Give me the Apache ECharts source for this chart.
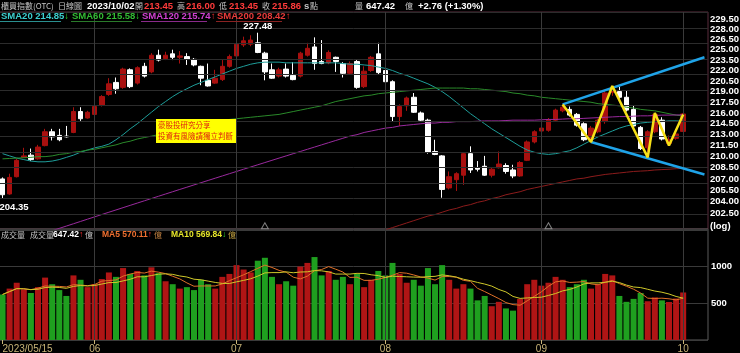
<!DOCTYPE html>
<html><head><meta charset="utf-8">
<script src="https://cdn.jsdelivr.net/npm/echarts@6/dist/echarts.min.js"></script>
<style>html,body{margin:0;padding:0;background:#000}#c{width:740px;height:353px}</style>
</head><body><div id="c"></div>
<script>
// ---------------- data ----------------
const dates = [
'2023/05/15','2023/05/16','2023/05/17','2023/05/18','2023/05/19','2023/05/22','2023/05/23','2023/05/24','2023/05/25','2023/05/26','2023/05/29','2023/05/30','2023/05/31',
'2023/06/01','2023/06/02','2023/06/05','2023/06/06','2023/06/07','2023/06/08','2023/06/09','2023/06/12','2023/06/13','2023/06/14','2023/06/15','2023/06/16','2023/06/19','2023/06/20','2023/06/21','2023/06/26','2023/06/27','2023/06/28','2023/06/29','2023/06/30',
'2023/07/03','2023/07/04','2023/07/05','2023/07/06','2023/07/07','2023/07/10','2023/07/11','2023/07/12','2023/07/13','2023/07/14','2023/07/17','2023/07/18','2023/07/19','2023/07/20','2023/07/21','2023/07/24','2023/07/25','2023/07/26','2023/07/27','2023/07/28','2023/07/31',
'2023/08/01','2023/08/02','2023/08/04','2023/08/07','2023/08/08','2023/08/09','2023/08/10','2023/08/11','2023/08/14','2023/08/15','2023/08/16','2023/08/17','2023/08/18','2023/08/21','2023/08/22','2023/08/23','2023/08/24','2023/08/25','2023/08/28','2023/08/29','2023/08/30','2023/08/31',
'2023/09/01','2023/09/04','2023/09/05','2023/09/06','2023/09/07','2023/09/08','2023/09/11','2023/09/12','2023/09/13','2023/09/14','2023/09/15','2023/09/18','2023/09/19','2023/09/20','2023/09/21','2023/09/22','2023/09/25','2023/09/26','2023/09/27','2023/09/28',
'2023/10/02'];

const openP = [207.0,205.0,207.3,209.9,210.2,209.7,211.5,213.4,212.9,212.8,
213.3,216.2,215.3,215.8,217.1,218.6,220.3,219.6,222.1,220.2,
222.6,221.8,224.2,223.7,224.4,223.9,224.0,223.6,222.6,220.6,
220.2,220.7,222.6,224.1,225.7,225.8,226.0,224.5,222.1,221.2,
222.2,221.3,221.2,224.2,225.4,223.3,223.1,223.9,223.0,221.6,
223.3,219.7,222.0,224.4,222.0,220.4,215.5,217.0,218.2,216.0,
215.0,210.7,210.1,205.8,206.9,207.5,210.4,208.5,208.7,207.5,
208.5,208.8,208.2,207.4,209.5,212.0,213.5,213.6,215.0,216.3,
216.5,215.8,214.5,212.5,213.4,214.8,218.9,219.0,218.2,216.5,
214.0,211.2,213.4,215.0,211.8,212.5,213.45];
const highP = [207.2,207.7,209.7,211.2,211.1,211.6,213.8,213.8,213.8,214.2,
216.8,216.8,216.3,217.0,218.5,220.9,221.0,222.4,222.3,222.6,
223.1,224.5,225.0,224.7,225.0,224.8,224.5,223.8,222.7,223.0,
222.1,223.5,224.3,226.1,226.9,227.1,227.48,224.7,223.0,222.4,
223.0,223.2,224.7,226.0,226.8,226.4,224.9,224.0,223.2,223.3,
223.5,222.6,224.1,226.0,222.2,220.6,217.2,218.3,218.8,216.2,
215.2,212.3,210.2,208.0,207.9,210.6,211.4,209.4,210.1,208.6,
210.7,209.1,208.9,209.4,212.2,213.6,215.1,215.3,216.6,217.2,
216.9,216.0,214.7,214.2,215.2,219.1,219.8,219.7,219.1,217.0,
214.2,213.6,216.0,215.4,212.9,213.6,216.00];
const lowP = [204.35,204.9,207.2,209.8,209.4,209.6,211.4,212.2,212.1,212.6,
213.2,214.9,215.2,215.6,216.9,218.4,218.7,219.4,219.5,220.0,
221.0,221.6,223.3,223.5,223.5,223.0,222.8,222.6,219.9,219.7,
220.1,220.5,222.4,224.0,225.4,225.5,224.5,220.6,220.8,221.0,
221.0,220.6,221.0,224.0,222.1,222.9,222.9,221.8,221.0,221.4,
219.4,219.5,221.8,221.5,220.2,214.8,214.2,216.3,216.0,214.8,
210.4,210.2,204.5,205.6,205.4,206.2,207.8,208.0,207.4,207.2,
208.4,207.7,207.1,207.3,209.4,211.8,213.4,213.4,214.9,216.1,
215.5,214.1,212.1,212.0,213.2,214.5,218.4,218.0,216.2,214.0,
210.9,209.9,213.2,212.2,211.5,212.3,213.45];
const closeP = [204.9,207.2,209.5,210.1,209.6,211.3,213.4,212.7,212.3,212.7,
216.2,215.2,216.1,216.9,218.3,220.1,219.4,222.2,219.7,222.4,
221.2,224.2,223.5,224.2,223.9,224.1,223.6,222.8,220.9,219.8,
220.9,222.6,224.0,225.8,226.3,226.4,224.6,221.8,220.9,222.1,
221.2,220.7,224.5,225.2,223.0,223.0,224.6,223.3,221.6,223.0,
219.6,221.9,223.9,221.7,220.4,215.5,216.9,218.1,216.1,215.0,
210.6,210.3,205.6,207.3,207.7,210.4,208.2,208.3,207.5,208.3,
209.0,208.0,207.4,209.2,212.0,213.4,213.9,215.0,216.4,216.8,
215.7,214.3,212.3,213.9,215.0,218.8,219.3,218.2,216.4,214.2,
211.1,213.4,215.8,212.4,212.3,213.1,215.86];
const volume = [620,700,780,690,640,720,850,760,680,600,
880,820,720,760,830,920,860,980,900,940,
880,990,910,800,760,700,720,680,820,760,
700,860,900,1020,960,920,1080,1120,860,760,
800,740,1000,1050,1130,880,940,820,860,760,
900,720,820,940,880,1050,900,780,820,740,
980,760,1020,820,700,760,700,540,600,460,
520,430,400,560,760,820,740,780,860,820,
720,760,820,700,760,900,880,600,520,560,
640,527.85,580,540,518,565.13,647.42];

const sma20 = [210.4,210.1,209.8,209.6,209.4,209.3,209.3,209.4,209.6,209.9,
210.2,210.6,210.9,211.2,211.4,211.7,212.3,213.0,213.8,214.5,
215.3,216.1,216.9,217.6,218.3,218.9,219.4,219.9,220.3,220.7,
221.1,221.5,221.9,222.3,222.6,222.9,223.1,223.2,223.2,223.2,
223.1,223.1,223.1,223.1,223.1,223.1,223.1,223.1,223.0,222.9,
222.9,222.8,222.7,222.5,222.3,222.0,221.6,221.3,220.9,220.5,
220.1,219.6,219.0,218.3,217.5,216.7,215.9,215.2,214.5,213.8,
213.2,212.6,212.0,211.4,210.9,210.6,210.4,210.3,210.4,210.6,
210.8,211.2,211.7,212.2,212.7,213.1,213.5,213.9,214.2,214.4,
214.6,214.7,214.8,214.8,214.9,214.9,214.85];
const sma60 = [209.7,209.75,209.8,209.85,209.9,210.0,210.0,210.1,210.3,210.4,
210.6,210.7,210.9,211.0,211.2,211.4,211.6,211.9,212.1,212.4,
212.6,212.8,213.0,213.3,213.5,213.7,214.0,214.2,214.4,214.6,
214.8,215.0,215.1,215.2,215.3,215.4,215.5,215.6,215.7,215.8,
216.0,216.2,216.4,216.6,216.8,217.0,217.3,217.6,217.8,218.0,
218.2,218.4,218.5,218.7,218.8,218.9,219.0,219.1,219.2,219.3,
219.4,219.5,219.5,219.5,219.5,219.5,219.4,219.4,219.3,219.2,
219.1,219.0,218.8,218.7,218.5,218.4,218.2,218.1,218.0,217.9,
217.8,217.7,217.6,217.5,217.3,217.2,217.1,217.0,216.8,216.7,
216.5,216.4,216.3,216.1,215.9,215.7,215.58];
const sma120 = [null,null,null,null,null,null,null,200.2,200.5,200.8,
201.1,201.4,201.7,202.0,202.3,202.6,202.9,203.2,203.5,203.8,
204.1,204.4,204.7,205.0,205.3,205.6,205.9,206.2,206.5,206.8,
207.1,207.4,207.7,208.0,208.3,208.6,208.9,209.2,209.5,209.8,
210.1,210.4,210.7,211.0,211.3,211.6,211.9,212.2,212.5,212.8,
213.0,213.3,213.5,213.7,213.9,214.0,214.2,214.3,214.4,214.5,
214.6,214.6,214.7,214.7,214.8,214.8,214.8,214.85,214.9,214.9,
214.9,214.95,215.0,215.0,215.0,215.0,215.05,215.1,215.1,215.15,
215.2,215.2,215.25,215.3,215.35,215.4,215.45,215.5,215.5,215.55,
215.6,215.6,215.65,215.7,215.7,215.72,215.74];
const sma200 = [null,null,null,null,null,null,null,null,null,null,
null,null,null,null,null,null,null,null,null,null,
null,null,null,null,null,null,null,null,null,null,
null,null,null,null,null,null,null,null,null,null,
null,null,null,null,null,null,null,null,null,null,
null,null,null,null,200.3,200.6,200.9,201.2,201.5,201.8,
202.1,202.3,202.6,202.9,203.1,203.4,203.6,203.9,204.1,204.4,
204.6,204.9,205.1,205.3,205.6,205.8,206.0,206.2,206.4,206.6,
206.8,207.0,207.1,207.3,207.45,207.6,207.7,207.8,207.9,208.0,
208.05,208.1,208.2,208.25,208.3,208.37,208.42];

const priceTicks = [229.5,228,226.5,225,223.5,222,220.5,219,217.5,216,214.5,213,211.5,210,208.5,207,205.5,204,202.5];
const volTicks = [500,1000];
// drawn annotations: [dateIndex, price]
const upperTrend = [[79,217.2],[99,223.9]];
const lowerTrend = [[83,212.0],[99,207.6]];
const zigzag = [[79,217.2],[83,212.0],[86,219.8],[91,209.9],[92,216.0],[94,211.5],[96,215.8]];
const eventIdx = [37,77];

// ---------------- build ----------------
const LN = Math.log;
const cats = dates.concat(['','','']);
const monthStarts = [];
dates.forEach((d,i)=>{ if(i>0 && d.slice(5,7)!==dates[i-1].slice(5,7)) monthStarts.push(i); });
const msSet = new Set(monthStarts);
const candle = dates.map((d,i)=>[LN(openP[i]),LN(closeP[i]),LN(lowP[i]),LN(highP[i])]);
const lnArr = a => a.map(v => v==null ? null : LN(v));
const lnPairs = a => a.map(p => [p[0], LN(p[1])]);
function sma(arr,n){ return arr.map((v,i)=>{const s=Math.max(0,i-n+1);let t=0;for(let k=s;k<=i;k++)t+=arr[k];return t/(i-s+1);}); }
const vma5 = sma(volume,5), vma10 = sma(volume,10);
const N = dates.length-1;
const f2 = v => v.toFixed(2);
const PMIN = 200.42, PMAX = 230.54, VMAX = 1512;

const UP='#a8100f', DN='#ffffff', VUP='#b01515', VDN='#1f9f1f';
const NUMF = '"Liberation Sans", Arial, sans-serif';
const CJKF = '"Noto Sans CJK TC", sans-serif';
const NUM = 'bold 9.5px '+NUMF;
const NUMS = 'bold 8.5px '+NUMF;
const CJK = '8px '+CJKF;
const GRAY = '#c4c4c4', RED='#ff3b3b', UPA='#ff3030', DNA='#2ee02e';

function T(x,y,text,fill,font){ return {type:'text', x:x, y:y, silent:true, z:50,
  style:{text:text, fill:fill, font:font, textVerticalAlign:'middle', verticalAlign:'middle'}}; }
const arrow = (a,b) => a>=b ? '↑' : '↓';
function legendItem(x,y,label,val,prev,color){
  const up = val>=prev;
  return {type:'text', x:x, y:y, silent:true, z:50, style:{
    text:'{a|'+label+' '+f2(val)+'}{u|'+(up?'↑':'↓')+'}',
    textVerticalAlign:'middle', verticalAlign:'middle',
    rich:{a:{fill:color,color:color,font:NUM}, u:{fill:up?UPA:DNA,color:up?UPA:DNA,font:NUM}}
  }};
}
const chg = closeP[N]-closeP[N-1];
const graphics = [
  T(1,6,'櫃買指數(OTC)',GRAY,CJK),
  T(58,6,'日線圖',GRAY,CJK),
  T(87,6,dates[N],'#fff',NUM),
  T(135,6,'開',GRAY,CJK), T(144,6,f2(openP[N]),RED,NUM),
  T(177,6,'高',GRAY,CJK), T(186,6,f2(highP[N]),RED,NUM),
  T(219,6,'低',GRAY,CJK), T(229,6,f2(lowP[N]),RED,NUM),
  T(262,6,'收',GRAY,CJK), T(272,6,f2(closeP[N]),RED,NUM),
  T(304,6,'s',GRAY,NUM), T(310,6,'點',GRAY,CJK),
  T(355,6,'量',GRAY,CJK), T(366,6,f2(volume[N]),'#fff',NUM), T(405,6,'億',GRAY,CJK),
  T(418,6,(chg>=0?'+':'')+f2(chg)+' ('+(chg>=0?'+':'')+f2(chg/closeP[N-1]*100)+'%)','#fff',NUM),
  legendItem(1,16,'SMA20',sma20[N],sma20[N-1],'#3ccfcf'),
  legendItem(72,16,'SMA60',sma60[N],sma60[N-1],'#33bb33'),
  legendItem(142,16,'SMA120',sma120[N],sma120[N-1],'#d040d0'),
  legendItem(217,16,'SMA200',sma200[N],sma200[N-1],'#e83a3a'),
  {type:'rect', silent:true, z:49, shape:{x:0,y:21,width:61,height:1}, style:{fill:'#2a8f8f'}},
  {type:'rect', silent:true, z:49, shape:{x:71,y:21,width:61,height:1}, style:{fill:'#2a7a2a'}},
  {type:'rect', silent:true, z:49, shape:{x:141,y:21,width:66,height:1}, style:{fill:'#8a2a8a'}},
  {type:'rect', silent:true, z:49, shape:{x:216,y:21,width:66,height:1}, style:{fill:'#8a2222'}},
  T(710,226,'(log)','#fff',NUM),
  T(1,235,'成交量',GRAY,'8px '+CJKF),
  T(30,235,'成交量',GRAY,'8px '+CJKF),
  {type:'text', x:53, y:235, silent:true, z:50, style:{text:'{a|'+f2(volume[N])+'}{u|'+arrow(volume[N],volume[N-1])+'}{g| 億}',
    textVerticalAlign:'middle', verticalAlign:'middle',
    rich:{a:{fill:'#fff',color:'#fff',font:NUMS}, u:{fill:volume[N]>=volume[N-1]?UPA:DNA,color:volume[N]>=volume[N-1]?UPA:DNA,font:NUMS}, g:{fill:GRAY,color:GRAY,font:'8px '+CJKF}}}},
  {type:'text', x:102, y:235, silent:true, z:50, style:{text:'{a|MA5 '+f2(vma5[N])+'}{u|'+arrow(vma5[N],vma5[N-1])+'}{g| 億}',
    textVerticalAlign:'middle', verticalAlign:'middle',
    rich:{a:{fill:'#f07030',color:'#f07030',font:NUMS}, u:{fill:vma5[N]>=vma5[N-1]?UPA:DNA,color:vma5[N]>=vma5[N-1]?UPA:DNA,font:NUMS}, g:{fill:'#c08040',color:'#c08040',font:'8px '+CJKF}}}},
  {type:'text', x:171, y:235, silent:true, z:50, style:{text:'{a|MA10 '+f2(vma10[N])+'}{u|'+arrow(vma10[N],vma10[N-1])+'}{g| 億}',
    textVerticalAlign:'middle', verticalAlign:'middle',
    rich:{a:{fill:'#e6e62a',color:'#e6e62a',font:NUMS}, u:{fill:vma10[N]>=vma10[N-1]?UPA:DNA,color:vma10[N]>=vma10[N-1]?UPA:DNA,font:NUMS}, g:{fill:'#c0a040',color:'#c0a040',font:'8px '+CJKF}}}},
  {type:'rect', silent:true, z:60, shape:{x:156,y:119,width:80,height:24}, style:{fill:'#ffff00'}},
  {type:'text', silent:true, z:61, x:158, y:125.5, style:{text:'豪股投研究分享', fill:'#e02010', font:'7.5px '+CJKF, textVerticalAlign:'middle', verticalAlign:'middle'}},
  {type:'text', silent:true, z:61, x:158, y:136, style:{text:'投資有風險請獨立判斷', fill:'#e02010', font:'7.5px '+CJKF, textVerticalAlign:'middle', verticalAlign:'middle'}}
];

const xBase = {type:'category', data:cats, boundaryGap:true,
  axisLine:{show:false}, axisTick:{show:false}, axisLabel:{show:false}, splitLine:{show:false}};
const vLines = monthStarts.map(i=>({xAxis:i}));

const option = {
  backgroundColor:'#000',
  animation:false,
  grid:[
    {left:-1, width:709, top:12, height:217, show:true, borderColor:'#5a2c3c', borderWidth:1, backgroundColor:'transparent', outerBoundsMode:'none', containLabel:false},
    {left:-1, width:709, top:229, height:111, show:true, borderColor:'#5a5a5a', borderWidth:1, backgroundColor:'transparent', outerBoundsMode:'none', containLabel:false}
  ],
  xAxis:[
    Object.assign({}, xBase, {gridIndex:0}),
    Object.assign({}, xBase, {gridIndex:1,
      axisTick:{show:true, alignWithLabel:true, interval:(i)=>i===0||msSet.has(i), length:4, lineStyle:{color:'#c8b477'}},
      axisLabel:{show:true, interval:(i)=>i===0||msSet.has(i), margin:4, color:'#c8b477', fontSize:10,
        fontFamily:'"Liberation Sans Narrow","Liberation Sans", sans-serif', alignMinLabel:'left',
        formatter:(v,i)=> i===0 ? v : v.slice(5,7)}})
  ],
  yAxis:[
    {type:'value', gridIndex:0, position:'right', min:LN(PMIN), max:LN(PMAX),
      axisLine:{show:false}, axisTick:{show:false}, splitLine:{show:false},
      axisLabel:{show:true, customValues:priceTicks.map(LN), margin:2, color:'#fff', fontSize:9.5, fontWeight:'bold', fontFamily:NUMF,
        formatter:(v)=> f2(Math.exp(v))}},
    {type:'value', gridIndex:1, position:'right', min:0, max:VMAX, interval:500,
      axisLine:{show:false}, axisTick:{show:false},
      axisLabel:{show:true, margin:3, color:'#fff', fontSize:9.5, fontWeight:'bold', fontFamily:NUMF,
        formatter:(v)=> volTicks.indexOf(v)>=0 ? String(v) : ''},
      splitLine:{show:true, lineStyle:{color:'#3a3a3a', width:1}}}
  ],
  series:[
    {type:'line', xAxisIndex:0, yAxisIndex:0, data:[], z:1, silent:true,
      markLine:{silent:true, symbol:['none','none'], animation:false,
        lineStyle:{color:'#2c2c2c', width:1, type:'solid'}, label:{show:false},
        data: priceTicks.map(v=>({yAxis:LN(v)}))}},
    {type:'line', xAxisIndex:0, yAxisIndex:0, data:[], z:1, silent:true,
      markLine:{silent:true, symbol:['none','none'], animation:false,
        lineStyle:{color:'#3a3a3a', width:1, type:'solid'}, label:{show:false}, data: vLines}},
    {type:'line', xAxisIndex:1, yAxisIndex:1, data:[], z:1, silent:true,
      markLine:{silent:true, symbol:['none','none'], animation:false,
        lineStyle:{color:'#3a3a3a', width:1, type:'solid'}, label:{show:false}, data: vLines}},
    {type:'candlestick', xAxisIndex:0, yAxisIndex:0, data:candle, barWidth:5, z:3,
      itemStyle:{color:UP, color0:DN, borderColor:UP, borderColor0:DN, borderWidth:1},
      markPoint:{symbol:'circle', symbolSize:0, animation:false, silent:true,
        label:{color:'#fff', fontSize:9.5, fontWeight:'bold', fontFamily:NUMF, formatter:(p)=>f2(Math.exp(p.value))},
        data:[
          {type:'max', valueDim:'highest', label:{position:'top', distance:1}},
          {type:'min', valueDim:'lowest', label:{position:'bottom', distance:3, align:'left', offset:[-3,0]}}
        ]}},
    {type:'line', xAxisIndex:0, yAxisIndex:0, data:lnArr(sma20), symbol:'none', z:4, lineStyle:{color:'#1e9e9a', width:1}},
    {type:'line', xAxisIndex:0, yAxisIndex:0, data:lnArr(sma60), symbol:'none', z:4, lineStyle:{color:'#2a8a2a', width:1}},
    {type:'line', xAxisIndex:0, yAxisIndex:0, data:lnArr(sma120), symbol:'none', z:4, lineStyle:{color:'#9a2a9e', width:1}},
    {type:'line', xAxisIndex:0, yAxisIndex:0, data:lnArr(sma200), symbol:'none', z:4, lineStyle:{color:'#8c1c1c', width:1}},
    {type:'line', xAxisIndex:0, yAxisIndex:0, data:lnPairs(upperTrend), symbol:'none', z:6, lineStyle:{color:'#1fa3e8', width:2.5}},
    {type:'line', xAxisIndex:0, yAxisIndex:0, data:lnPairs(lowerTrend), symbol:'none', z:6, lineStyle:{color:'#1fa3e8', width:2.5}},
    {type:'line', xAxisIndex:0, yAxisIndex:0, data:lnPairs(zigzag), symbol:'none', z:7, lineStyle:{color:'#f7e017', width:2.5}},
    {type:'scatter', xAxisIndex:0, yAxisIndex:0, data:eventIdx.map(i=>[i, LN(200.85)]), symbol:'triangle', symbolSize:[7,6], z:8, silent:true,
      itemStyle:{color:'rgba(0,0,0,0)', borderColor:'#9a9a9a', borderWidth:1}},
    {type:'bar', xAxisIndex:1, yAxisIndex:1, data:volume, barWidth:6, z:3,
      itemStyle:{color:(p)=> closeP[p.dataIndex]>=openP[p.dataIndex] ? VUP : VDN}},
    {type:'line', xAxisIndex:1, yAxisIndex:1, data:vma5, symbol:'none', z:5, lineStyle:{color:'#e07028', width:1}},
    {type:'line', xAxisIndex:1, yAxisIndex:1, data:vma10, symbol:'none', z:5, lineStyle:{color:'#cfc82a', width:1}}
  ],
  graphic: graphics
};
const chart = echarts.init(document.getElementById('c'), null, {renderer:'canvas'});
chart.setOption(option);
</script>
</body></html>
